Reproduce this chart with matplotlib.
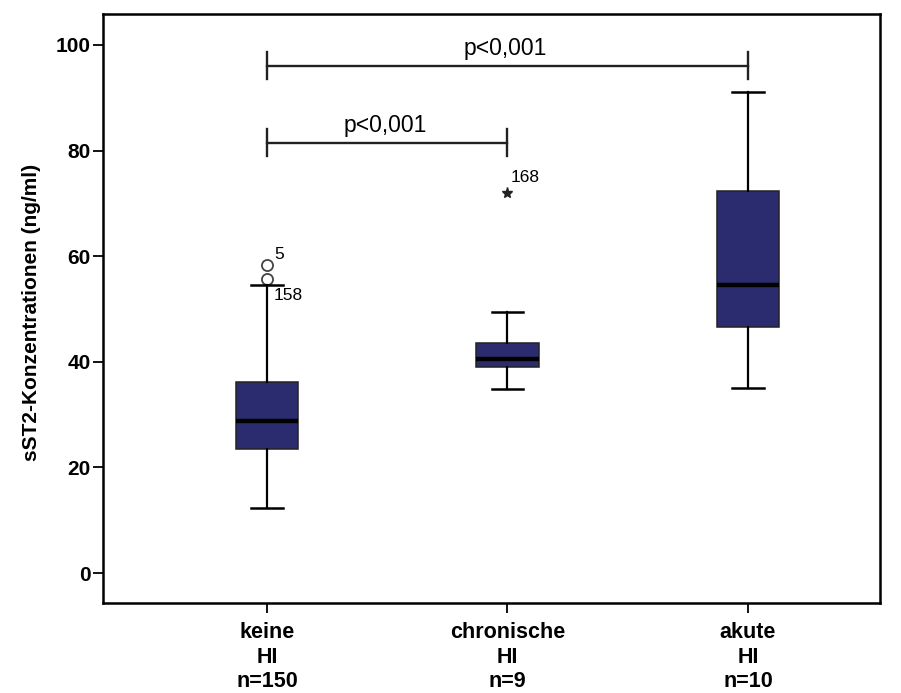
import matplotlib
matplotlib.use("Agg")
import matplotlib.pyplot as plt

plt.rcParams["font.family"] = ["Liberation Sans", "DejaVu Sans"]

# groups and box statistics (ng/ml)
groups = ["keine\nHI\nn=150", "chronische\nHI\nn=9", "akute\nHI\nn=10"]
q1 = [23.4, 39.0, 46.6]
medians = [28.8, 40.5, 54.5]
q3 = [36.1, 43.6, 72.4]
whisker_low = [12.3, 34.9, 35.0]
whisker_high = [54.6, 49.4, 91.1]

# outliers: group index, value, case number, marker
outlier_group = [0, 0, 1]
outlier_value = [58.3, 55.6, 72.0]
outlier_case = ["5", "158", "168"]
outlier_marker = ["o", "o", "*"]

# significance brackets
bracket_pairs = [(0, 2), (0, 1)]
bracket_height = [96.1, 81.5]
bracket_text = ["p<0,001", "p<0,001"]

positions = [1, 2, 3]
box_color = "#2b2c70"

fig = plt.figure(figsize=(9.01, 6.93), dpi=100)
ax = fig.add_axes([103 / 901, 90 / 693, 777 / 901, 589 / 693])

stats = [
    dict(med=m, q1=a, q3=b, whislo=lo, whishi=hi, fliers=[])
    for m, a, b, lo, hi in zip(medians, q1, q3, whisker_low, whisker_high)
]

# outliers first so the whisker caps sit on top of them
for g, v, case, mk in zip(outlier_group, outlier_value, outlier_case, outlier_marker):
    x = positions[g]
    if mk == "o":
        ax.plot(x, v, marker="o", ms=8, mfc="white", mec="#444444", mew=1.3, zorder=1)
    else:
        ax.plot(x, v, marker="*", ms=8, color="#222222", zorder=1)

ax.annotate(outlier_case[0], (positions[0], outlier_value[0]), xytext=(5, 8),
            textcoords="offset points", fontsize=12.5, ha="left", va="center")
ax.annotate(outlier_case[1], (positions[0], outlier_value[1]), xytext=(4.5, -11.5),
            textcoords="offset points", fontsize=12.5, ha="left", va="center")
ax.annotate(outlier_case[2], (positions[1], outlier_value[2]), xytext=(2.5, 11),
            textcoords="offset points", fontsize=12.5, ha="left", va="center")

ax.bxp(stats, positions=positions, widths=0.258, capwidths=0.13,
       showfliers=False, patch_artist=True,
       boxprops=dict(facecolor=box_color, edgecolor="#222222", linewidth=1.1),
       medianprops=dict(color="black", linewidth=3.2),
       whiskerprops=dict(color="black", linewidth=1.6),
       capprops=dict(color="black", linewidth=1.8),
       zorder=2)

# brackets with p-values
for (a, b), h, txt in zip(bracket_pairs, bracket_height, bracket_text):
    xa, xb = positions[a], positions[b]
    ax.plot([xa, xb], [h, h], color="#222222", lw=1.7)
    ax.plot([xa, xa], [h - 2.5, h + 2.5], color="#222222", lw=1.7)
    ax.plot([xb, xb], [h - 2.5, h + 2.5], color="#222222", lw=1.7)
    ax.text((xa + xb) / 2 - 0.01, h + 1.1, txt, ha="center", va="bottom", fontsize=16.5)

ax.set_xlim(0.318, 3.549)
ax.set_ylim(-5.68, 105.87)
ax.set_yticks([0, 20, 40, 60, 80, 100])
ax.set_xticks(positions)
ax.set_xticklabels(groups, fontsize=15.5, fontweight="bold", linespacing=1.2)
for lab in ax.get_yticklabels():
    lab.set_fontsize(15)
    lab.set_fontweight("bold")

ax.tick_params(axis="y", direction="out", length=7, width=1.3, pad=2)
ax.tick_params(axis="x", direction="out", length=7, width=1.3, pad=7)
for sp in ax.spines.values():
    sp.set_linewidth(1.8)

fig.text(32 / 901, 1 - 312 / 693, "sST2-Konzentrationen (ng/ml)", rotation=90,
         ha="center", va="center", fontsize=15, fontweight="bold")

fig.savefig("out.png", dpi=100)
